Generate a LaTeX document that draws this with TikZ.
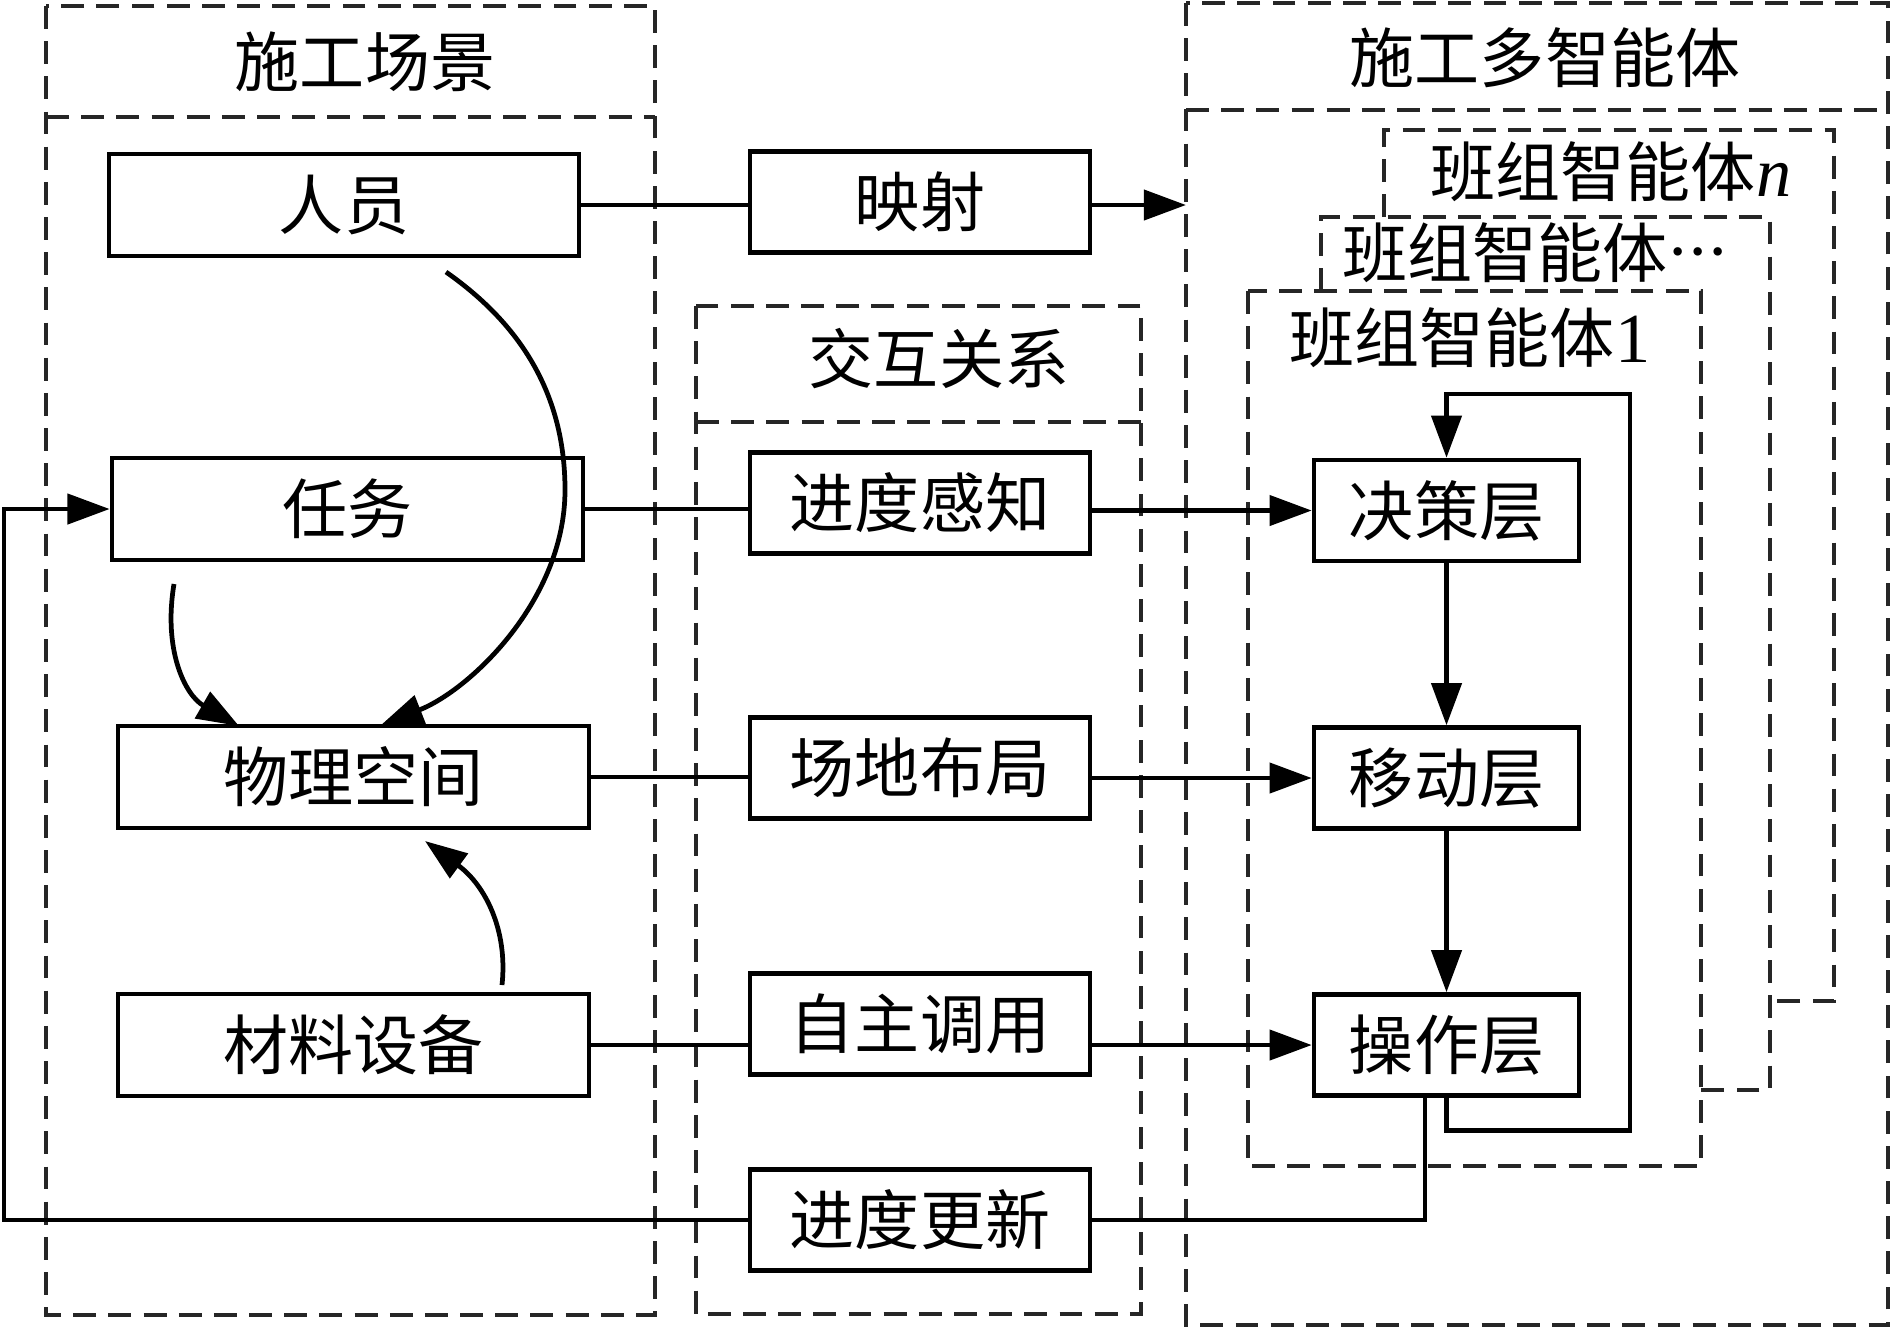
\documentclass[tikz,border=0pt]{standalone}
\usepackage{fontspec}
\setmainfont{Liberation Serif}
\newfontfamily\cjk{Noto Sans CJK SC}
\usetikzlibrary{arrows.meta}
\begin{document}
\begin{tikzpicture}[x=0.01cm,y=-0.01cm,
  box/.style={draw,line width=1.25pt,inner sep=0pt,font=\cjk\fontsize{18.5}{22}\selectfont},
  lbox/.style={box,minimum width=4.71cm,minimum height=1.02cm},
  mbox/.style={box,minimum width=3.40cm,minimum height=1.01cm},
  rbox/.style={box,minimum width=2.65cm,minimum height=1.01cm},
  dbox/.style={draw=black!85,line width=1.1pt,dash pattern=on 6.5pt off 3.5pt},
  conn/.style={line width=1.35pt},
  arr/.style={conn,-{Triangle[length=12pt,width=8.5pt]}},
  ttl/.style={font=\cjk\fontsize{18.5}{22}\selectfont,inner sep=0pt}]
\useasboundingbox (0,0) rectangle (1892,1329);

% dashed frames
\draw[dbox] (46,6) rectangle (655,1315);
\draw[dbox] (46,117) -- (655,117);
\draw[dbox] (696,306) rectangle (1141,1314);
\draw[dbox] (696,422) -- (1141,422);
\draw[dbox] (1186,3) rectangle (1888,1325);
\draw[dbox] (1186,110) -- (1888,110);
\draw[dbox] (1248,291) rectangle (1701,1166);
\draw[dbox] (1321,291) -- (1321,217) -- (1770,217) -- (1770,1090) -- (1701,1090);
\draw[dbox] (1384,217) -- (1384,130) -- (1834,130) -- (1834,1001) -- (1770,1001);

% titles
\node[ttl] (t1) at (365,62) {施工场景};
\node[ttl] (t2) at (939,359) {交互关系};
\node[ttl] (t3) at (1545,58) {施工多智能体};
\node[ttl,anchor=west] (a1) at (1289,338) {班组智能体{\rmfamily\fontsize{20}{22}\selectfont 1}};
\node[ttl,anchor=west] (a2) at (1342,253) {班组智能体\hspace{1pt}{\rmfamily\fontsize{10}{10}\selectfont\raisebox{4.2pt}{•\hspace{2.2pt}•\hspace{2.2pt}•}}};
\node[ttl,anchor=west] (an) at (1430,172) {班组智能体{\rmfamily\itshape\fontsize{20}{22}\selectfont n}};

% left column
\node[lbox,minimum width=4.70cm] (ry) at (344,205) {人员};
\node[lbox] (rw) at (347.5,509) {任务};
\node[lbox] (wl) at (353.5,777) {物理空间};
\node[lbox] (cl) at (353.5,1045) {材料设备};

% middle column
\node[mbox] (ys) at (920,202) {映射};
\node[mbox] (jg) at (920,503) {进度感知};
\node[mbox] (cd) at (920,768) {场地布局};
\node[mbox] (zz) at (920,1024) {自主调用};
\node[mbox] (gx) at (920,1220) {进度更新};

% right column
\node[rbox] (jc) at (1446.5,510.5) {决策层};
\node[rbox] (yd) at (1446.5,778) {移动层};
\node[rbox] (cz) at (1446.5,1045) {操作层};

% coordinates
\coordinate (rbW) at (1186,205);
\coordinate (loopR) at (1630,394);
\coordinate (fbL) at (4,509);
\coordinate (c1s) at (446,272);
\coordinate (c1m) at (565,490);
\coordinate (c1e) at (381,725);
\coordinate (c2s) at (174,584);
\coordinate (c2e) at (239,726);
\coordinate (c3s) at (502,985);
\coordinate (c3e) at (425,841);

% horizontal connectors
\draw[conn] (ry.east) -- (ry.east -| ys.west);
\draw[arr] (ys.east |- ry.east) -- (rbW);
\draw[conn] (rw.east) -- (rw.east -| jg.west);
\draw[arr] (jg.east |- jc.west) -- (jc.west);
\draw[conn] (wl.east) -- (wl.east -| cd.west);
\draw[arr] (cd.east |- yd.west) -- (yd.west);
\draw[conn] (cl.east) -- (cl.east -| zz.west);
\draw[arr] (zz.east |- cz.west) -- (cz.west);

% layer arrows
\draw[arr] (jc.south) -- (yd.north);
\draw[arr] (yd.south) -- (cz.north);
\draw[arr] (cz.south) -- ++(0,32.5) -| (loopR) -| (jc.north);

% progress update feedback
\draw[conn] ([xshift=-0.215cm]cz.south) |- (gx.east);
\draw[arr] (gx.west) -| (fbL) -- (rw.west);

% curved arrows
\draw[arr] (c1s) .. controls (526,328) and (565,400) .. (c1m)
  .. controls (565,600) and (470,690) .. (c1e);
\draw[arr] (c2s) .. controls (163,650) and (185,695) .. (c2e);
\draw[arr] (c3s) .. controls (508,930) and (485,885) .. (c3e);
\end{tikzpicture}
\end{document}
